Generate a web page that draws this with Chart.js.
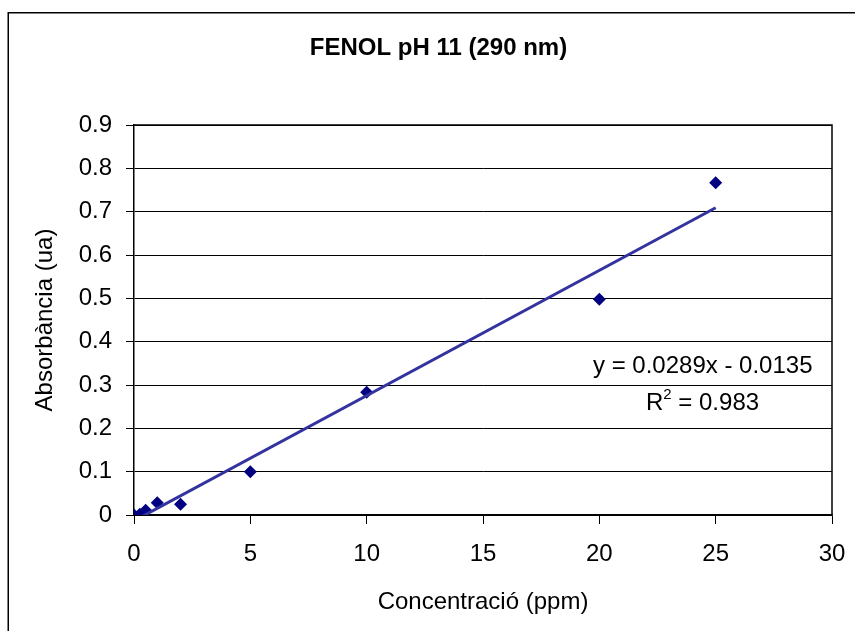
<!DOCTYPE html>
<html>
<head>
<meta charset="utf-8">
<script src="https://cdn.jsdelivr.net/npm/chart.js@4.4.1/dist/chart.umd.min.js"></script>
<style>
html,body{margin:0;padding:0;background:#fff;}
canvas{display:block;}
</style>
</head>
<body>
<canvas id="c" width="855" height="631"></canvas>
<script>
// ---- data ----
const concentrations = [0, 0.25, 0.5, 1, 2, 5, 10, 20, 25];
const absorbances    = [0, 0.002, 0.011, 0.028, 0.025, 0.1, 0.283, 0.498, 0.767];
const trendX = [0, 25];
const trendY = [-0.0135, 0.709];
const xTickLabels = ['0', '5', '10', '15', '20', '25', '30'];
const yTickLabels = ['0', '0.1', '0.2', '0.3', '0.4', '0.5', '0.6', '0.7', '0.8', '0.9'];
const chartTitle = 'FENOL pH 11 (290 nm)';
const xTitle = 'Concentració (ppm)';
const yTitle = 'Absorbància (ua)';
const equationText = 'y = 0.0289x - 0.0135';
const r2Value = ' = 0.983';

const FONT = '"Liberation Sans", Arial, sans-serif';

const points = concentrations.map((x, i) => ({x: x, y: absorbances[i]}));
const trend = trendX.map((x, i) => ({x: x, y: trendY[i]}));

const decor = {
  id: 'decor',
  beforeDraw(chart) {
    const ctx = chart.ctx;
    ctx.save();
    ctx.fillStyle = '#fff';
    ctx.fillRect(0, 0, chart.width, chart.height);
    ctx.strokeStyle = '#000';
    ctx.lineWidth = 1.5;
    ctx.strokeRect(8.25, 12.75, 900, 700);
    ctx.restore();
  },
  afterDatasetsDraw(chart) {
    const ctx = chart.ctx;
    const a = chart.chartArea;
    ctx.save();
    ctx.strokeStyle = '#000';
    ctx.lineWidth = 1.5;
    ctx.beginPath();
    ctx.moveTo(a.left, a.top);
    ctx.lineTo(a.right, a.top);
    ctx.lineTo(a.right, a.bottom);
    ctx.stroke();
    // title
    ctx.fillStyle = '#000';
    ctx.font = 'bold 24px ' + FONT;
    ctx.textAlign = 'center';
    ctx.textBaseline = 'alphabetic';
    ctx.fillText(chartTitle, 438.5, 55);
    // equation
    ctx.font = '24px ' + FONT;
    ctx.textAlign = 'left';
    ctx.fillText(equationText, 593, 373);
    ctx.fillText('R', 646, 410);
    const rw = ctx.measureText('R').width;
    ctx.font = '15px ' + FONT;
    ctx.fillText('2', 646 + rw, 399);
    const sw = ctx.measureText('2').width;
    ctx.font = '24px ' + FONT;
    ctx.fillText(r2Value, 646 + rw + sw, 410);
    ctx.restore();
  }
};

new Chart(document.getElementById('c'), {
  type: 'scatter',
  data: {
    datasets: [
      {
        label: 'Trend',
        data: trend,
        showLine: true,
        borderColor: '#3333a0',
        borderWidth: 3,
        pointRadius: 0,
        fill: false
      },
      {
        label: 'Data',
        data: points,
        pointStyle: 'rectRot',
        pointRadius: 6.5,
        pointBackgroundColor: '#000080',
        pointBorderColor: '#000080',
        pointBorderWidth: 0,
        showLine: false
      }
    ]
  },
  options: {
    responsive: false,
    animation: false,
    devicePixelRatio: 1,
    layout: {padding: {left: 8, top: 125, right: 23, bottom: 0}},
    plugins: {legend: {display: false}, tooltip: {enabled: false}, title: {display: false}},
    scales: {
      x: {
        type: 'linear',
        min: 0, max: 30,
        afterFit(s) { s.height = 116; s.paddingLeft = 0; s.paddingRight = 0; },
        ticks: {
          stepSize: 5,
          color: '#000',
          padding: 15.6,
          font: {family: FONT, size: 24},
          callback: (v, i) => xTickLabels[i]
        },
        grid: {display: true, drawOnChartArea: false, drawTicks: true, tickLength: 9, color: '#000', lineWidth: 1},
        border: {display: true, color: '#000', width: 1.5},
        title: {display: true, text: xTitle, color: '#000', font: {family: FONT, size: 24}, padding: {top: 0, bottom: 14.6}}
      },
      y: {
        type: 'linear',
        min: 0, max: 0.9,
        afterFit(s) { s.width = 126; s.paddingTop = 0; s.paddingBottom = 0; },
        ticks: {
          stepSize: 0.1,
          color: '#000',
          padding: 14,
          font: {family: FONT, size: 24},
          callback: (v, i) => yTickLabels[i]
        },
        grid: {display: true, drawOnChartArea: true, drawTicks: true, tickLength: 8, color: '#000', lineWidth: 1},
        border: {display: true, color: '#000', width: 1.5},
        title: {display: true, text: yTitle, color: '#000', font: {family: FONT, size: 24}, padding: {top: 22.6, bottom: 0}}
      }
    }
  },
  plugins: [decor]
});
</script>
</body>
</html>
